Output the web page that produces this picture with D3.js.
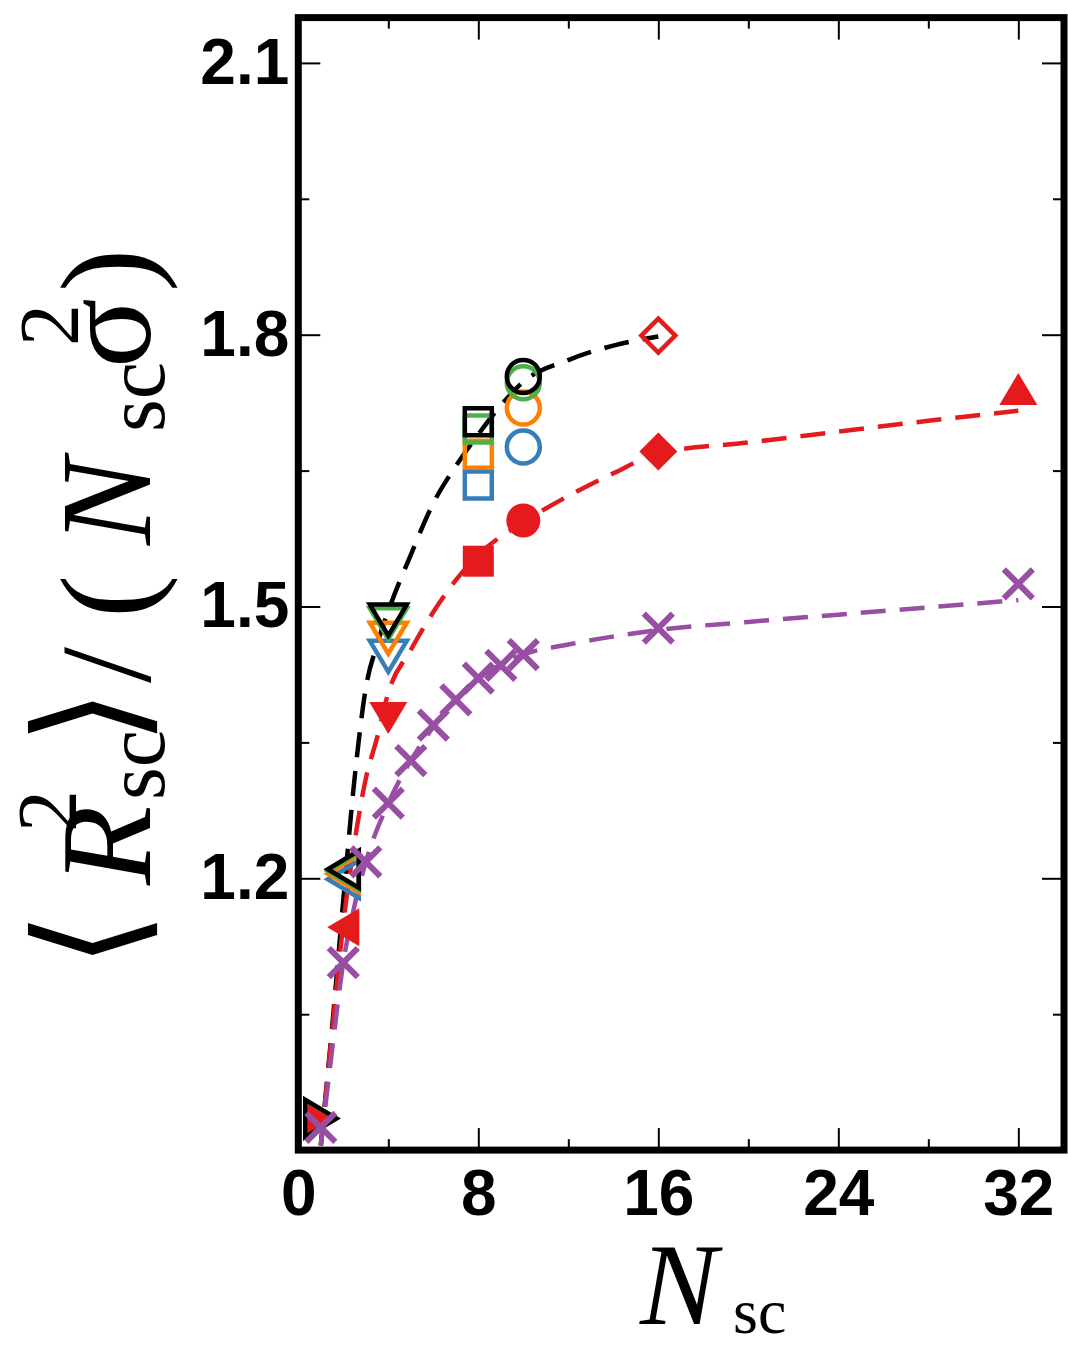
<!DOCTYPE html>
<html>
<head>
<meta charset="utf-8">
<script src="https://cdn.jsdelivr.net/npm/d3@7"></script>
<style>
  html, body { margin: 0; padding: 0; background: #fff; }
  svg { display: block; }
</style>
</head>
<body>
<svg id="chart" width="1068" height="1352"></svg>
<script>
// ---------------- data ----------------
// chain sizes with open markers (four colour sets), one shape per size
const openN      = [1, 2, 4, 8, 10];
const openShapes = ["right", "left", "down", "square", "circle"];
const blueVals   = [0.935, 1.199, 1.445, 1.634, 1.676];
const orangeVals = [0.935, 1.205, 1.465, 1.668, 1.719];
const greenVals  = [0.935, 1.208, 1.481, 1.696, 1.747];
const blackVals  = [0.935, 1.210, 1.485, 1.704, 1.754];

// open red diamond
const redOpenN = [16];
const redOpenVals = [1.799];

// filled red markers
const redN      = [1, 2, 4, 8, 10, 16, 32];
const redShapes = ["right", "left", "down", "square", "circle", "diamond", "up"];
const redVals   = [0.935, 1.146, 1.377, 1.550, 1.595, 1.671, 1.740];

// purple crosses
const purpleN    = [1, 2, 3, 4, 5, 6, 7, 8, 9, 10, 16, 32];
const purpleVals = [0.925, 1.107, 1.218, 1.283, 1.330, 1.369, 1.397, 1.421, 1.435, 1.447, 1.476, 1.525];

// dashed fit curves
const blackFitN   = [1, 1.5, 2, 2.5, 3, 3.5, 4, 5, 6, 7, 8, 9, 10, 12, 14, 16];
const blackFitV   = [0.905, 1.035, 1.176, 1.31, 1.41, 1.458, 1.495, 1.557, 1.614, 1.655, 1.69, 1.722, 1.748, 1.772, 1.788, 1.798];
const redFitN     = [1, 1.5, 2, 2.5, 3, 3.5, 4, 5, 6, 7, 8, 10, 12, 14, 16, 20, 24, 28, 32];
const redFitV     = [0.905, 1.03, 1.15, 1.24, 1.31, 1.355, 1.405, 1.452, 1.494, 1.529, 1.557, 1.593, 1.622, 1.647, 1.669, 1.681, 1.693, 1.705, 1.716];
const purpleFitN  = [1, 1.5, 2, 2.5, 3, 4, 5, 6, 7, 8, 9, 10, 12, 16, 20, 24, 28, 32];
const purpleFitV  = [0.905, 1.01, 1.107, 1.17, 1.218, 1.283, 1.330, 1.367, 1.396, 1.420, 1.436, 1.447, 1.458, 1.474, 1.483, 1.491, 1.499, 1.507];

// axis ticks
const xMajorTicks = [0, 8, 16, 24, 32];
const xMinorTicks = [4, 12, 20, 28];
const yMajorTicks = [1.2, 1.5, 1.8, 2.1];
const yMinorTicks = [1.05, 1.35, 1.65, 1.95];

// ---------------- colours ----------------
const C = {
  blue: "#377eb8", orange: "#ff7f00", green: "#4daf4a",
  black: "#000000", red: "#e41a1c", purple: "#984ea3"
};

// ---------------- layout ----------------
const svg = d3.select("#chart");
const plotL = 298.3, plotR = 1064, plotT = 17.6, plotB = 1150.1;

const x = d3.scaleLinear().domain([0, 34.03]).range([plotL, plotR]);
const y = d3.scaleLinear().domain([0.9, 2.15]).range([plotB, plotT]);

svg.append("defs").append("clipPath").attr("id", "plotClip")
  .append("rect").attr("x", plotL).attr("y", plotT)
  .attr("width", plotR - plotL).attr("height", plotB - plotT);

// ---------------- axes (inward ticks on all four sides) ----------------
const tickFont = "'Liberation Sans', Arial, Helvetica, sans-serif";
const MAJ = 22, MIN = 11;

function styleAxis(g) {
  g.select(".domain").remove();
  g.selectAll(".tick line").attr("stroke", "#000").attr("stroke-width", 2);
  g.selectAll(".tick text")
    .attr("font-family", tickFont).attr("font-weight", "bold")
    .attr("font-size", 64).attr("fill", "#000");
}

// bottom
svg.append("g").attr("transform", `translate(0,${plotB})`)
  .call(d3.axisBottom(x).tickValues(xMajorTicks).tickSize(-MAJ).tickPadding(19).tickFormat(d3.format("d")))
  .call(styleAxis);
svg.append("g").attr("transform", `translate(0,${plotB})`)
  .call(d3.axisBottom(x).tickValues(xMinorTicks).tickSize(-MIN).tickFormat(""))
  .call(styleAxis);
// top
svg.append("g").attr("transform", `translate(0,${plotT})`)
  .call(d3.axisTop(x).tickValues(xMajorTicks).tickSize(-MAJ).tickFormat(""))
  .call(styleAxis);
svg.append("g").attr("transform", `translate(0,${plotT})`)
  .call(d3.axisTop(x).tickValues(xMinorTicks).tickSize(-MIN).tickFormat(""))
  .call(styleAxis);
// left
svg.append("g").attr("transform", `translate(${plotL},0)`)
  .call(d3.axisLeft(y).tickValues(yMajorTicks).tickSize(-MAJ).tickPadding(9).tickFormat(d3.format(".1f")))
  .call(styleAxis);
svg.append("g").attr("transform", `translate(${plotL},0)`)
  .call(d3.axisLeft(y).tickValues(yMinorTicks).tickSize(-MIN).tickFormat(""))
  .call(styleAxis);
// right
svg.append("g").attr("transform", `translate(${plotR},0)`)
  .call(d3.axisRight(y).tickValues(yMajorTicks).tickSize(-MAJ).tickFormat(""))
  .call(styleAxis);
svg.append("g").attr("transform", `translate(${plotR},0)`)
  .call(d3.axisRight(y).tickValues(yMinorTicks).tickSize(-MIN).tickFormat(""))
  .call(styleAxis);

// ---------------- fit curves ----------------
const plot = svg.append("g").attr("clip-path", "url(#plotClip)");
const lineGen = d3.line().x(d => x(d[0])).y(d => y(d[1])).curve(d3.curveMonotoneX);

function drawFit(ns, vs, colour) {
  return plot.append("path")
    .attr("d", lineGen(d3.zip(ns, vs)))
    .attr("fill", "none").attr("stroke", colour)
    .attr("stroke-width", 4.5).attr("stroke-dasharray", "25,14");
}
drawFit(blackFitN, blackFitV, C.black);
drawFit(redFitN, redFitV, C.red);

// ---------------- marker shapes ----------------
function shapePath(shape, big) {
  const b = big ? 38 : 37, h = big ? 32 : 31;   // triangle base / height
  const s = big ? 31 : 27;                       // square side
  const d = big ? 19 : 17;                       // diamond half-diagonal
  switch (shape) {
    case "right":  return `M${-h/2},${-b/2}L${h/2},0L${-h/2},${b/2}Z`;
    case "left":   return `M${h/2},${-b/2}L${-h/2},0L${h/2},${b/2}Z`;
    case "down":   return `M${-b/2},${-h/2}L${b/2},${-h/2}L0,${h/2}Z`;
    case "up":     return `M${-b/2},${h/2}L${b/2},${h/2}L0,${-h/2}Z`;
    case "square": return `M${-s/2},${-s/2}h${s}v${s}h${-s}Z`;
    case "diamond":return `M0,${-d}L${d},0L0,${d}L${-d},0Z`;
  }
  return null;
}

function drawMarkers(ns, vs, shapes, colour, filled) {
  const data = ns.map((n, i) => ({ n, v: vs[i], shape: shapes[i] }));
  const g = svg.append("g");
  data.forEach(d => {
    let el;
    if (d.shape === "circle") {
      el = g.append("circle").attr("cx", x(d.n)).attr("cy", y(d.v))
        .attr("r", filled ? 17 : 16.5);
    } else {
      el = g.append("path").attr("d", shapePath(d.shape, filled))
        .attr("transform", `translate(${x(d.n)},${y(d.v)})`);
    }
    if (filled) el.attr("fill", colour).attr("stroke", "none");
    else el.attr("fill", "none").attr("stroke", colour).attr("stroke-width", 4.5)
           .attr("stroke-linejoin", "miter");
  });
}

drawMarkers(redN, redVals, redShapes, C.red, true);
drawMarkers(openN, blueVals, openShapes, C.blue, false);
drawMarkers(openN, orangeVals, openShapes, C.orange, false);
drawMarkers(openN, greenVals, openShapes, C.green, false);
drawMarkers(openN, blackVals, openShapes, C.black, false);
drawMarkers(redOpenN, redOpenVals, ["diamond"], C.red, false);

// purple series drawn last
drawFit(purpleFitN, purpleFitV, C.purple);
const cross = 14.5;
svg.append("g").selectAll("path")
  .data(purpleN.map((n, i) => [n, purpleVals[i]]))
  .join("path")
  .attr("transform", d => `translate(${x(d[0])},${y(d[1])})`)
  .attr("d", `M${-cross},${-cross}L${cross},${cross}M${-cross},${cross}L${cross},${-cross}`)
  .attr("stroke", C.purple).attr("stroke-width", 6).attr("fill", "none");

// ---------------- frame ----------------
svg.append("rect")
  .attr("x", plotL).attr("y", plotT)
  .attr("width", plotR - plotL).attr("height", plotB - plotT)
  .attr("fill", "none").attr("stroke", "#000").attr("stroke-width", 7);

// ---------------- axis titles ----------------
const serif = "'Liberation Serif', 'Times New Roman', Times, serif";

const xt = svg.append("text").attr("x", 640).attr("y", 1324)
  .attr("font-family", serif).attr("fill", "#000");
xt.append("tspan").attr("font-style", "italic").attr("font-size", 116).text("N");
xt.append("tspan").attr("x", 733).attr("font-size", 64).attr("dy", 9).text("sc");

// y title, read bottom to top
const yTitle = svg.append("g").attr("transform", "rotate(-90)");
const yPieces = [
  { t: "\u27E8", at: 968, base: 138, size: 145, fam: "'DejaVu Serif', serif" },
  { t: "R",      at: 885, base: 150, size: 130, italic: true },
  { t: "2",      at: 832, base: 76,  size: 84 },
  { t: "sc",     at: 800, base: 164, size: 84 },
  { t: "\u27E9", at: 745, base: 138, size: 145, fam: "'DejaVu Serif', serif" },
  { t: "/",      at: 683, base: 150, size: 130 },
  { t: "(",      at: 618, base: 150, size: 130 },
  { t: "N",      at: 545, base: 150, size: 130, italic: true },
  { t: "sc",     at: 432, base: 164, size: 84 },
  { t: "\u03C3", at: 368, base: 150, size: 130 },
  { t: "2",      at: 346, base: 78,  size: 84 },
  { t: ")",      at: 292, base: 150, size: 130 }
];
yPieces.forEach(p => {
  yTitle.append("text")
    .attr("x", -p.at).attr("y", p.base)
    .attr("font-family", p.fam || serif)
    .attr("font-style", p.italic ? "italic" : "normal")
    .attr("font-size", p.size).attr("fill", "#000")
    .text(p.t);
});
</script>
</body>
</html>
